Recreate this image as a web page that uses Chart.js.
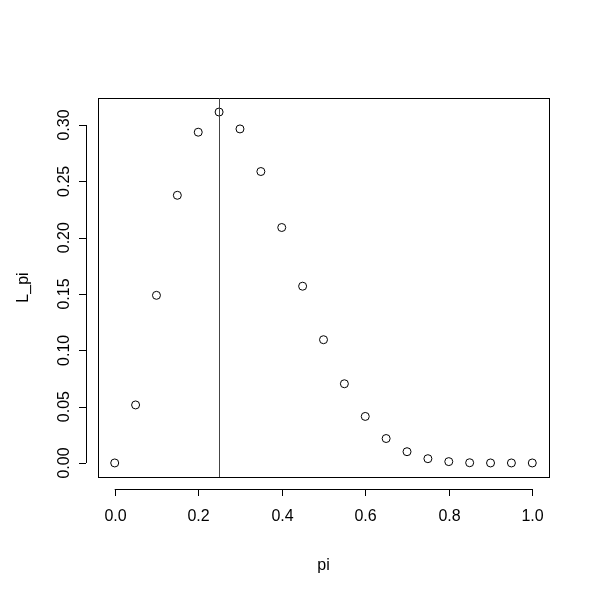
<!DOCTYPE html>
<html>
<head>
<script src="https://cdn.jsdelivr.net/npm/chart.js@4/dist/chart.umd.min.js"></script>
<style>body{margin:0;background:#fff}#wrap{width:600px;height:600px}</style>
</head>
<body>
<div id="wrap"><canvas id="c"></canvas></div>
<script>
const piValues = [0,0.05,0.1,0.15,0.2,0.25,0.3,0.35,0.4,0.45,0.5,0.55,0.6,0.65,0.7,0.75,0.8,0.85,0.9,0.95,1];
const likelihood = [0,0.0515,0.1488,0.2376,0.2936,0.3115,0.2965,0.2587,0.2090,0.1569,0.1094,0.0703,0.0413,0.0217,0.0100,0.0038,0.0012,0.0002,0,0,0];
const xTicks = [0,0.2,0.4,0.6,0.8,1.0];
const yTicks = [0,0.05,0.1,0.15,0.2,0.25,0.3];
const markLine = 0.25;

const rAxes = {
  id: 'rAxes',
  afterDraw(chart) {
    const ctx = chart.ctx, a = chart.chartArea, x = chart.scales.x, y = chart.scales.y;
    ctx.save();
    ctx.strokeStyle = '#000'; ctx.lineWidth = 1; ctx.fillStyle = '#000';
    ctx.strokeRect(a.left + 0.5, a.top + 0.5, a.right - a.left, a.bottom - a.top);
    const mx = Math.round(x.getPixelForValue(markLine)) + 0.5;
    ctx.strokeStyle = '#444';
    ctx.beginPath(); ctx.moveTo(mx, a.top); ctx.lineTo(mx, a.bottom); ctx.stroke();
    ctx.strokeStyle = '#000';
    ctx.font = '16px Arial, "Liberation Sans", sans-serif';
    // x axis
    const xb = a.bottom + 12;
    const x0 = x.getPixelForValue(xTicks[0]), x1 = x.getPixelForValue(xTicks[xTicks.length-1]);
    ctx.beginPath(); ctx.moveTo(x0, xb + 0.5); ctx.lineTo(x1, xb + 0.5);
    ctx.textAlign = 'center'; ctx.textBaseline = 'top';
    xTicks.forEach(t => {
      const px = Math.round(x.getPixelForValue(t)) + 0.5;
      ctx.moveTo(px, xb); ctx.lineTo(px, xb + 7);
      ctx.fillText(t.toFixed(1), px, xb + 20);
    });
    ctx.stroke();
    // y axis
    const yl = a.left - 12;
    const y0 = y.getPixelForValue(yTicks[0]), y1 = y.getPixelForValue(yTicks[yTicks.length-1]);
    ctx.beginPath(); ctx.moveTo(yl + 0.5, y0); ctx.lineTo(yl + 0.5, y1);
    yTicks.forEach(t => {
      const py = Math.round(y.getPixelForValue(t)) + 0.5;
      ctx.moveTo(yl, py); ctx.lineTo(yl - 7, py);
    });
    ctx.stroke();
    ctx.textAlign = 'center'; ctx.textBaseline = 'bottom';
    yTicks.forEach(t => {
      const py = y.getPixelForValue(t);
      ctx.save(); ctx.translate(yl - 13, py); ctx.rotate(-Math.PI / 2);
      ctx.fillText(t.toFixed(2), 0, 0); ctx.restore();
    });
    // titles
    ctx.textBaseline = 'alphabetic';
    ctx.fillText('pi', (a.left + a.right) / 2, 570);
    ctx.save(); ctx.translate(28, (a.top + a.bottom) / 2); ctx.rotate(-Math.PI / 2);
    ctx.fillText('L_pi', 0, 0); ctx.restore();
    ctx.restore();
  }
};

new Chart(document.getElementById('c'), {
  type: 'scatter',
  data: { datasets: [{
    data: piValues.map((p, i) => ({ x: p, y: likelihood[i] })),
    pointStyle: 'circle', pointRadius: 4, pointBorderWidth: 1,
    borderColor: '#000', backgroundColor: 'rgba(0,0,0,0)'
  }] },
  options: {
    responsive: true, maintainAspectRatio: false, animation: false,
    layout: { padding: { left: 98, right: 51, top: 98, bottom: 123 } },
    plugins: { legend: { display: false }, tooltip: { enabled: false } },
    scales: {
      x: { type: 'linear', min: -0.04, max: 1.04, display: false },
      y: { type: 'linear', min: -0.01246, max: 0.32396, display: false }
    }
  },
  plugins: [rAxes]
});
</script>
</body>
</html>
